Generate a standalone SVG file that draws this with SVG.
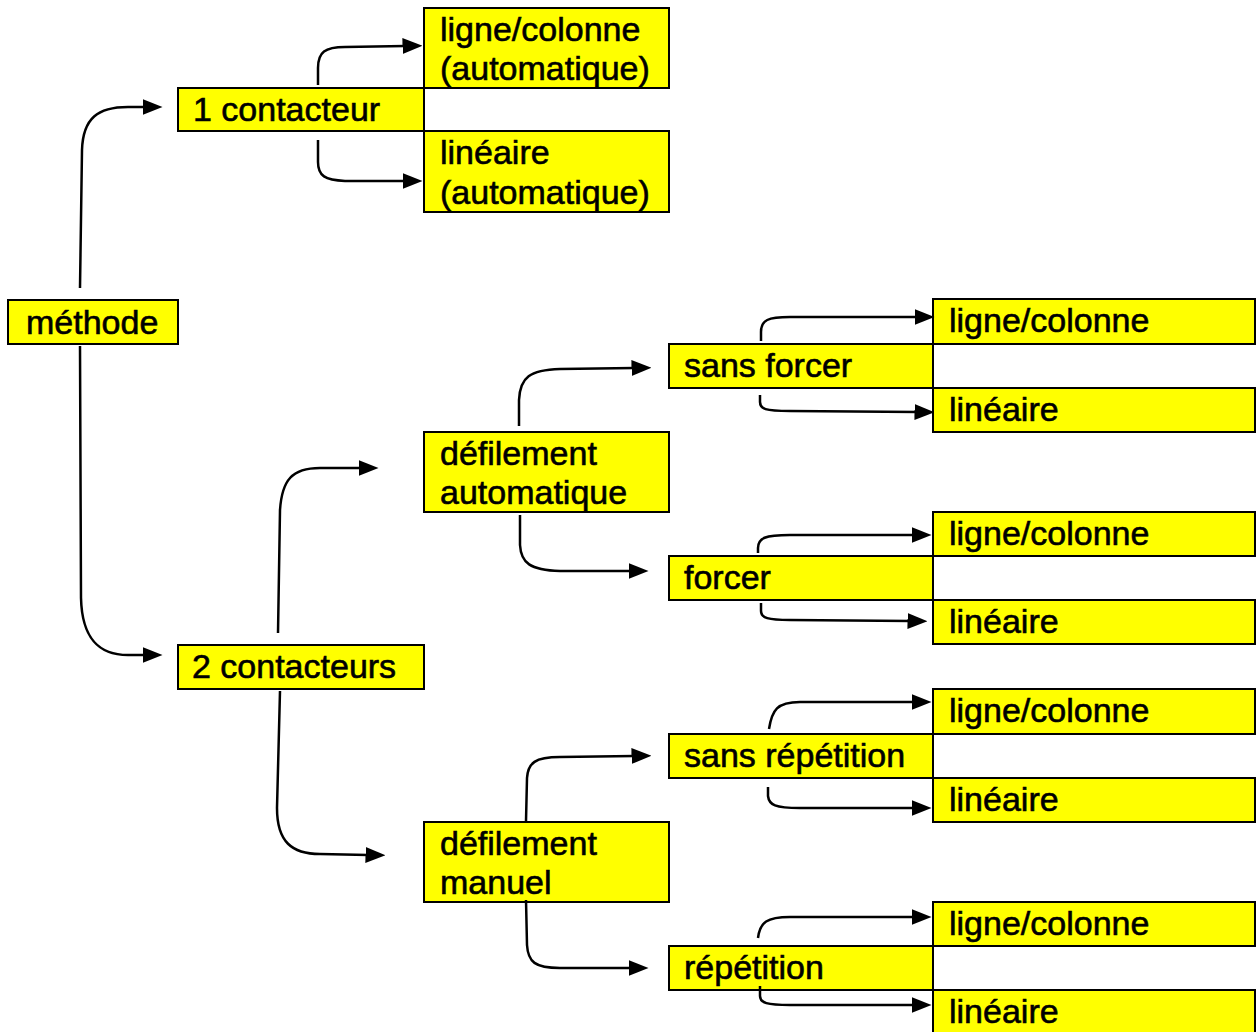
<svg xmlns="http://www.w3.org/2000/svg" width="1256" height="1032" viewBox="0 0 1256 1032">
<style>
.box{fill:#ffff00;stroke:#000;stroke-width:2}
.t{font-family:"Liberation Sans",Arial,sans-serif;font-size:34px;fill:#000;stroke:#000;stroke-width:0.6px}
.c{fill:none;stroke:#000;stroke-width:2.5;marker-end:url(#ah)}
</style>
<defs>
<marker id="ah" markerWidth="8" markerHeight="6.4" refX="1" refY="3.2" orient="auto" markerUnits="strokeWidth">
<path d="M0,0 L8,3.2 L0,6.4 Z" fill="#000"/>
</marker>
</defs>
<rect width="1256" height="1032" fill="#fff"/>
<g id="n-ligcol-auto"><rect class="box" x="424" y="8" width="245" height="80"/><text class="t" x="440" y="41">ligne/colonne</text><text class="t" x="440" y="80">(automatique)</text></g>
<g id="n-1contacteur"><rect class="box" x="178" y="88" width="246" height="43"/><text class="t" x="193" y="121">1 contacteur</text></g>
<g id="n-lin-auto"><rect class="box" x="424" y="131" width="245" height="81"/><text class="t" x="440" y="164">linéaire</text><text class="t" x="440" y="204">(automatique)</text></g>
<g id="n-methode"><rect class="box" x="8" y="300" width="170" height="44"/><text class="t" x="26" y="334">méthode</text></g>
<g id="n-2contacteurs"><rect class="box" x="178" y="645" width="246" height="44"/><text class="t" x="192" y="678">2 contacteurs</text></g>
<g id="n-def-auto"><rect class="box" x="424" y="432" width="245" height="80"/><text class="t" x="440" y="465">défilement</text><text class="t" x="440" y="504">automatique</text></g>
<g id="n-sans-forcer"><rect class="box" x="669" y="344" width="264" height="44"/><text class="t" x="684" y="377">sans forcer</text></g>
<g id="n-lc1"><rect class="box" x="933" y="299" width="322" height="45"/><text class="t" x="949" y="332">ligne/colonne</text></g>
<g id="n-lin1"><rect class="box" x="933" y="388" width="322" height="44"/><text class="t" x="949" y="421">linéaire</text></g>
<g id="n-forcer"><rect class="box" x="669" y="556" width="264" height="44"/><text class="t" x="684" y="589">forcer</text></g>
<g id="n-lc2"><rect class="box" x="933" y="512" width="322" height="44"/><text class="t" x="949" y="545">ligne/colonne</text></g>
<g id="n-lin2"><rect class="box" x="933" y="600" width="322" height="44"/><text class="t" x="949" y="633">linéaire</text></g>
<g id="n-def-man"><rect class="box" x="424" y="822" width="245" height="80"/><text class="t" x="440" y="855">défilement</text><text class="t" x="440" y="894">manuel</text></g>
<g id="n-sans-rep"><rect class="box" x="669" y="734" width="264" height="44"/><text class="t" x="684" y="767">sans répétition</text></g>
<g id="n-lc3"><rect class="box" x="933" y="689" width="322" height="45"/><text class="t" x="949" y="722">ligne/colonne</text></g>
<g id="n-lin3"><rect class="box" x="933" y="778" width="322" height="44"/><text class="t" x="949" y="811">linéaire</text></g>
<g id="n-rep"><rect class="box" x="669" y="946" width="264" height="44"/><text class="t" x="684" y="979">répétition</text></g>
<g id="n-lc4"><rect class="box" x="933" y="902" width="322" height="44"/><text class="t" x="949" y="935">ligne/colonne</text></g>
<g id="n-lin4"><rect class="box" x="933" y="990" width="322" height="44"/><text class="t" x="949" y="1023">linéaire</text></g>
<g id="connectors">
<path class="c" d="M80,288 L82,150 C83,118 98,107 128,107 L145,107"/>
<path class="c" d="M80,346 L81,598 C82,640 100,655 128,655 L145,655"/>
<path class="c" d="M318,85 L318,68 C318,52 325,47 345,47 L405,46"/>
<path class="c" d="M318,140 L318,162 C318,176 325,180 345,181 L405,181"/>
<path class="c" d="M278,633 L280,510 C282,480 292,468 320,468 L361,468"/>
<path class="c" d="M280,691 L277,808 C277,842 292,854 320,854 L368,855"/>
<path class="c" d="M519,426 L519,400 C520,377 530,370 560,369 L634,368"/>
<path class="c" d="M520,515 L520,545 C521,563 530,570 560,571 L631,571"/>
<path class="c" d="M761,341 L761,332 C761,320 768,317 790,317 L917,317"/>
<path class="c" d="M760,395 L760,402 C760,409 765,411 790,411 L917,412"/>
<path class="c" d="M758,553 L758,548 C758,538 765,535 790,535 L914,535"/>
<path class="c" d="M761,603 L761,611 C761,618 768,620 790,620 L910,621"/>
<path class="c" d="M526,821 L527,778 C528,763 535,757 560,757 L634,756"/>
<path class="c" d="M526,900 L527,945 C528,962 535,968 560,968 L631,968"/>
<path class="c" d="M769,729 C772,710 777,702 800,702 L914,702"/>
<path class="c" d="M768,787 L768,796 C769,805 775,808 800,808 L914,808"/>
<path class="c" d="M758,938 C760,922 767,917 790,917 L914,917"/>
<path class="c" d="M760,986 L760,996 C760,1003 767,1005 790,1005 L914,1005"/>
</g>
</svg>
